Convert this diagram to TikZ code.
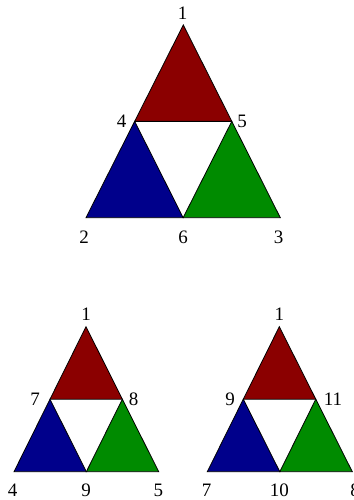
\documentclass[tikz,border=0pt]{standalone}
\usepackage{fontspec}
\setmainfont{Liberation Serif}
\definecolor{tred}{RGB}{139,0,0}
\definecolor{tblue}{RGB}{0,0,139}
\definecolor{tgreen}{RGB}{0,139,0}
\tikzset{
  tri/.style={draw=black, line width=0.8pt, line join=miter},
  lbl/.style={font=\fontsize{19}{19}\selectfont, inner sep=0pt}
}
\newcommand{\sierp}[7]{%
  % #1 prefix, #2 apex, #3 left, #4 right
  \coordinate (#1a) at #2;
  \coordinate (#1l) at #3;
  \coordinate (#1r) at #4;
  \coordinate (#1ml) at ($(#1a)!0.5!(#1l)$);
  \coordinate (#1mr) at ($(#1a)!0.5!(#1r)$);
  \coordinate (#1mb) at ($(#1l)!0.5!(#1r)$);
  \fill[white] (#1ml) -- (#1mr) -- (#1mb) -- cycle;
  \filldraw[tri, fill=tred] (#1a) -- (#1ml) -- (#1mr) -- cycle;
  \filldraw[tri, fill=tblue] (#1ml) -- (#1l) -- (#1mb) -- cycle;
  \filldraw[tri, fill=tgreen] (#1mr) -- (#1mb) -- (#1r) -- cycle;
}
\usetikzlibrary{calc}
\begin{document}
\begin{tikzpicture}[x=1pt,y=-1pt]
\useasboundingbox (0,0) rectangle (353,500);
% big triangle
\sierp{A}{(183.3,25)}{(86,217.7)}{(280.3,217.7)}{}{}{}
\node[lbl] (A1) at (182.5,13) {1};
\node[lbl] (A4) at (121.5,121.7) {4};
\node[lbl] (A5) at (242,121.7) {5};
\node[lbl] (A2) at (84,237) {2};
\node[lbl] (A6) at (183,237) {6};
\node[lbl] (A3) at (278.5,237) {3};
% lower left
\sierp{B}{(86,326.7)}{(14,471.7)}{(158.7,471.7)}{}{}{}
\node[lbl] (B1) at (86,314) {1};
\node[lbl] (B7) at (35,399.3) {7};
\node[lbl] (B8) at (133.5,399.3) {8};
\node[lbl] (B4) at (12.7,490) {4};
\node[lbl] (B9) at (86,490) {9};
\node[lbl] (B5) at (158.3,490) {5};
% lower right
\sierp{C}{(279.3,326.7)}{(207.3,471.7)}{(352.3,471.7)}{}{}{}
\node[lbl] (C1) at (279.3,314) {1};
\node[lbl] (C9) at (230,399.3) {9};
\node[lbl] (C11) at (333,399.3) {11};
\node[lbl] (C7) at (206.7,490) {7};
\node[lbl] (C10) at (279.3,490) {10};
\node[lbl] (C8) at (355,490) {8};
\end{tikzpicture}
\end{document}
